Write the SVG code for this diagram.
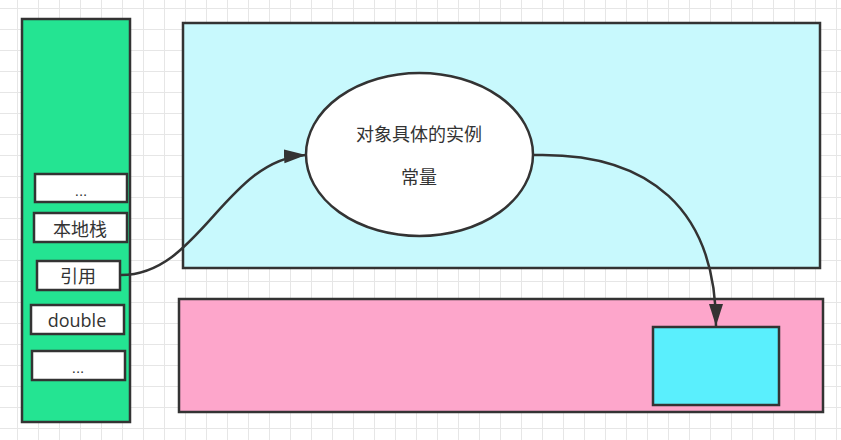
<svg xmlns="http://www.w3.org/2000/svg" width="841" height="440" viewBox="0 0 841 440">
<defs>
<pattern id="grid" x="17" y="8" width="21" height="21" patternUnits="userSpaceOnUse">
<path d="M0,0.5 H21 M0.5,0 V21" fill="none" stroke="#e6e6e6" stroke-width="1"/>
</pattern>
<marker id="arrow" markerUnits="userSpaceOnUse" markerWidth="24" markerHeight="16" refX="22" refY="7" orient="auto">
<path d="M0,0 L22,7 L0,14 Z" fill="#333"/>
</marker>
<style>
.box{stroke:#333;stroke-width:2.5}
.t{font-family:"Liberation Sans","Noto Sans CJK SC",sans-serif;font-size:18px;fill:#333;text-anchor:middle}
.cjk{font-family:"Noto Sans CJK SC","Liberation Sans",sans-serif}
.conn{fill:none;stroke:#333;stroke-width:2.5}
</style>
</defs>
<rect width="841" height="440" fill="#fff"/>
<rect width="841" height="440" fill="url(#grid)"/>

<g id="stack">
<rect class="box" x="22" y="19" width="108" height="403" fill="#24e492"/>
</g>
<g id="slot-dots-top">
<rect class="box" x="35" y="174" width="92" height="28" fill="#fff"/>
<text class="t" x="81" y="196" style="font-size:15px">...</text>
</g>
<g id="slot-native">
<rect class="box" x="34" y="213" width="93" height="29" fill="#fff"/>
<text class="t cjk" x="80" y="236">本地栈</text>
</g>
<g id="slot-ref">
<rect class="box" x="37" y="261" width="83" height="29" fill="#fff"/>
<text class="t cjk" x="78" y="283">引用</text>
</g>
<g id="slot-double">
<rect class="box" x="31" y="305" width="93" height="29" fill="#fff"/>
<text class="t" x="77" y="327" style="font-family:'Open Sans','Liberation Sans',sans-serif;font-size:18px">double</text>
</g>
<g id="slot-dots-bottom">
<rect class="box" x="32" y="351" width="93" height="29" fill="#fff"/>
<text class="t" x="78" y="373" style="font-size:15px">...</text>
</g>

<g id="heap">
<rect class="box" x="183" y="23" width="637" height="245" fill="#c8f9fd"/>
</g>
<g id="object">
<ellipse class="box" cx="419.5" cy="154.5" rx="113.5" ry="81.5" fill="#fff"/>
<text class="t cjk" x="419" y="141">对象具体的实例</text>
<text class="t cjk" x="419" y="184">常量</text>
</g>

<g id="method-area">
<rect class="box" x="179" y="299" width="644" height="113" fill="#fda6cb"/>
</g>
<g id="class-data">
<rect class="box" x="653" y="327" width="126" height="78" fill="#5aeffd"/>
</g>

<g id="connectors">
<path class="conn" d="M121,275 C200,275 225,160 306,155" marker-end="url(#arrow)"/>
<path class="conn" d="M534,155 C650,152 716,210 716,326" marker-end="url(#arrow)"/>
</g>
</svg>
